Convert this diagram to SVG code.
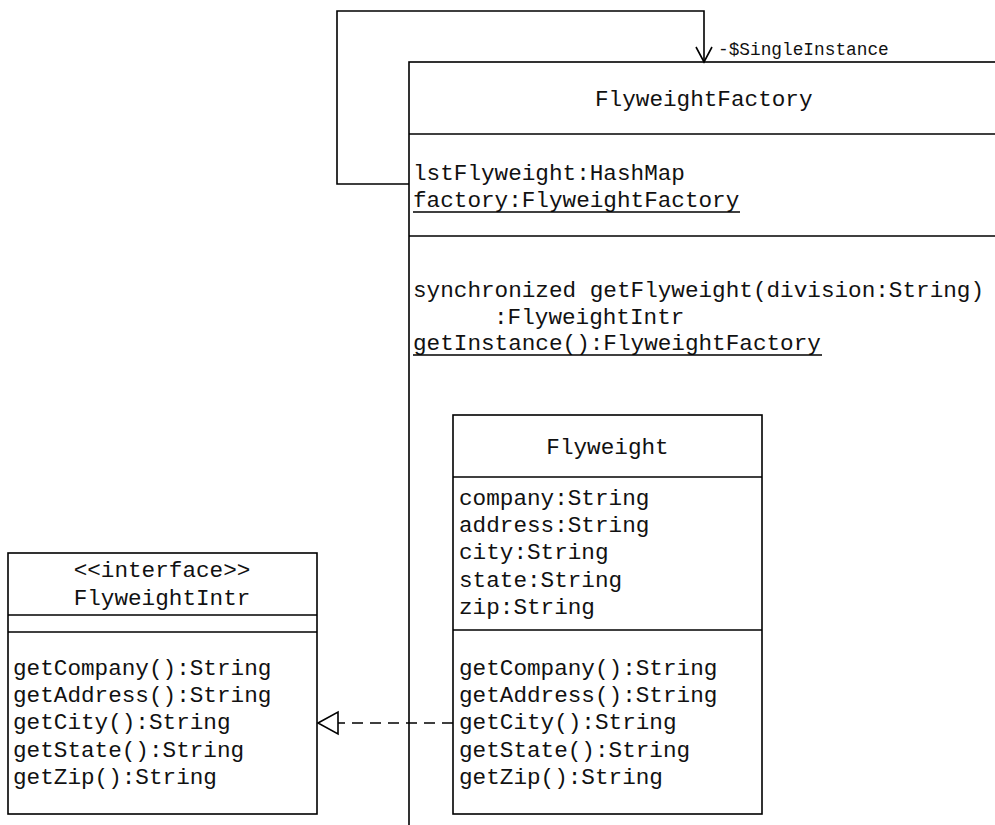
<svg xmlns="http://www.w3.org/2000/svg" width="995" height="825" viewBox="0 0 995 825">
<style>
.box{fill:#fff;stroke:#000;stroke-width:1.6}
.ln{fill:none;stroke:#000;stroke-width:1.6}
.t{font-family:"Liberation Mono","Courier New",monospace;font-size:22.67px;fill:#111}
.c{text-anchor:middle}
.lbl{font-family:"Liberation Mono","Courier New",monospace;font-size:17.8px;fill:#111}
.dash{fill:none;stroke:#000;stroke-width:1.6;stroke-dasharray:11 7}
</style>
<rect width="995" height="825" fill="#fff"/>
<g id="FlyweightFactory">
<rect class="box" x="409" y="62" width="700" height="900"/>
<line class="ln" x1="409" y1="134" x2="995" y2="134"/>
<line class="ln" x1="409" y1="236" x2="995" y2="236"/>
<text class="t" x="595" y="106">FlyweightFactory</text>
<text class="t" x="413" y="180">lstFlyweight:HashMap</text>
<text class="t" x="413" y="207">factory:FlyweightFactory</text>
<line class="ln" x1="413" y1="212" x2="740" y2="212" stroke-width="1.4"/>
<text class="t" x="413" y="297">synchronized getFlyweight(division:String)</text>
<text class="t" x="494" y="324">:FlyweightIntr</text>
<text class="t" x="413" y="350">getInstance():FlyweightFactory</text>
<line class="ln" x1="413" y1="355" x2="822" y2="355" stroke-width="1.4"/>
</g>
<g id="connectors">
<polyline class="ln" points="409,184 337,184 337,11 704,11 704,62"/>
<polyline class="ln" points="696,47 704,62 712,47"/>
<text class="lbl" x="718" y="55">-$SingleInstance</text>
<line class="dash" x1="453" y1="723" x2="338" y2="723"/>
<polygon points="318,723 338,712 338,734" fill="#fff" stroke="#000" stroke-width="1.6"/>
</g>
<g id="Flyweight">
<rect class="box" x="453" y="415" width="309" height="399"/>
<line class="ln" x1="453" y1="477" x2="762" y2="477"/>
<line class="ln" x1="453" y1="630" x2="762" y2="630"/>
<text class="t c" x="607.5" y="454">Flyweight</text>
<text class="t" x="459" y="505">company:String</text>
<text class="t" x="459" y="532">address:String</text>
<text class="t" x="459" y="559">city:String</text>
<text class="t" x="459" y="587">state:String</text>
<text class="t" x="459" y="614">zip:String</text>
<text class="t" x="459" y="675">getCompany():String</text>
<text class="t" x="459" y="702">getAddress():String</text>
<text class="t" x="459" y="729">getCity():String</text>
<text class="t" x="459" y="757">getState():String</text>
<text class="t" x="459" y="784">getZip():String</text>
</g>
<g id="FlyweightIntr">
<rect class="box" x="8" y="553" width="309" height="261"/>
<line class="ln" x1="8" y1="615" x2="317" y2="615"/>
<line class="ln" x1="8" y1="632" x2="317" y2="632"/>
<text class="t c" x="162" y="577">&lt;&lt;interface&gt;&gt;</text>
<text class="t c" x="162" y="605">FlyweightIntr</text>
<text class="t" x="13" y="675">getCompany():String</text>
<text class="t" x="13" y="702">getAddress():String</text>
<text class="t" x="13" y="729">getCity():String</text>
<text class="t" x="13" y="757">getState():String</text>
<text class="t" x="13" y="784">getZip():String</text>
</g>
</svg>
